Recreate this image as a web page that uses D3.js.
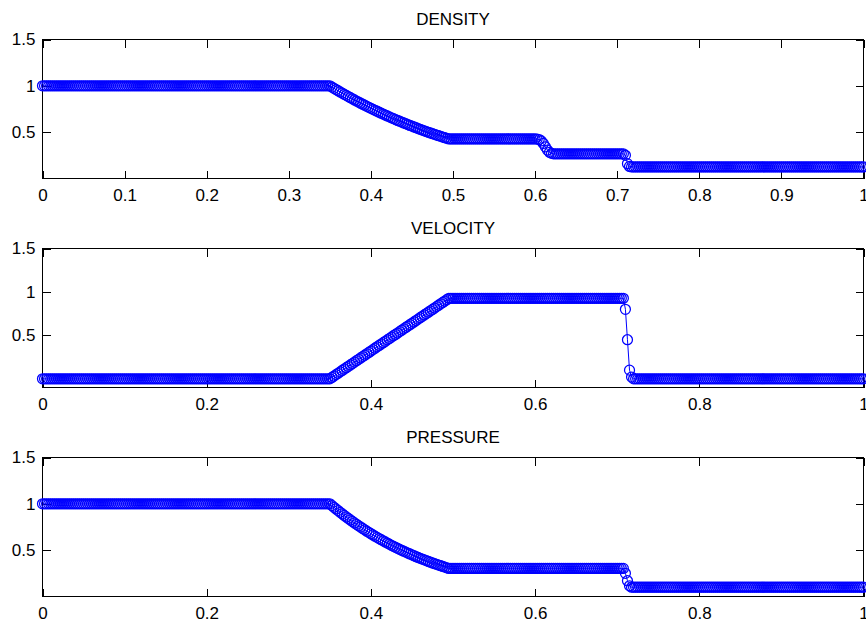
<!DOCTYPE html>
<html>
<head>
<meta charset="utf-8">
<script src="https://cdn.jsdelivr.net/npm/d3@7"></script>
<style>
  html, body { margin: 0; padding: 0; background: #ffffff; }
  svg { display: block; }
</style>
</head>
<body>
<script>
// Shock-tube solution on a uniform mesh of 401 nodes over [0, 1]
const meshStart = 0;
const meshEnd = 1;
const meshCells = 400;

const density = [
  1,1,1,1,1,1,1,1,1,1,1,1,1,1,1,1,1,1,1,1,
  1,1,1,1,1,1,1,1,1,1,1,1,1,1,1,1,1,1,1,1,
  1,1,1,1,1,1,1,1,1,1,1,1,1,1,1,1,1,1,1,1,
  1,1,1,1,1,1,1,1,1,1,1,1,1,1,1,1,1,1,1,1,
  1,1,1,1,1,1,1,1,1,1,1,1,1,1,1,1,1,1,1,1,
  1,1,1,1,1,1,1,1,1,1,1,1,1,1,1,1,1,1,1,1,
  1,1,1,1,1,1,1,1,1,1,1,1,1,1,1,1,1,1,1,1,
  1,
  0.987,0.973,0.960,0.947,0.934,0.922,0.909,0.897,0.884,0.872,
  0.860,0.848,0.836,0.825,0.813,0.802,0.791,0.779,0.768,0.758,
  0.747,0.736,0.726,0.715,0.705,0.695,0.685,0.675,0.665,0.655,
  0.646,0.636,0.627,0.618,0.609,0.600,0.591,0.582,0.573,0.565,
  0.556,0.548,0.539,0.531,0.523,0.515,0.507,0.499,0.492,0.484,
  0.477,0.469,0.462,0.455,0.447,0.440,0.433,
  0.4265,0.4265,0.4265,0.4265,0.4265,0.4265,0.4265,0.4265,0.4265,0.4265,
  0.4265,0.4265,0.4265,0.4265,0.4265,0.4265,0.4265,0.4265,0.4265,0.4265,
  0.4265,0.4265,0.4265,0.4265,0.4265,0.4265,0.4265,0.4265,0.4265,0.4265,
  0.4265,0.4265,0.4265,0.4265,0.4265,0.4265,0.4265,0.4265,0.4265,0.4265,
  0.4265,0.4265,0.4265,
  0.425,0.420,0.405,0.378,0.342,0.307,0.283,0.271,0.267,
  0.266,0.266,0.266,0.266,0.266,0.266,0.266,0.266,0.266,0.266,
  0.266,0.266,0.266,0.266,0.266,0.266,0.266,0.266,0.266,0.266,
  0.266,0.266,0.266,0.266,0.266,0.266,0.266,0.266,0.266,0.266,
  0.266,0.266,0.266,0.266,
  0.25,0.16,0.13,
  0.125,0.125,0.125,0.125,0.125,0.125,0.125,0.125,0.125,0.125,
  0.125,0.125,0.125,0.125,0.125,0.125,0.125,0.125,0.125,0.125,
  0.125,0.125,0.125,0.125,0.125,0.125,0.125,0.125,0.125,0.125,
  0.125,0.125,0.125,0.125,0.125,0.125,0.125,0.125,0.125,0.125,
  0.125,0.125,0.125,0.125,0.125,0.125,0.125,0.125,0.125,0.125,
  0.125,0.125,0.125,0.125,0.125,0.125,0.125,0.125,0.125,0.125,
  0.125,0.125,0.125,0.125,0.125,0.125,0.125,0.125,0.125,0.125,
  0.125,0.125,0.125,0.125,0.125,0.125,0.125,0.125,0.125,0.125,
  0.125,0.125,0.125,0.125,0.125,0.125,0.125,0.125,0.125,0.125,
  0.125,0.125,0.125,0.125,0.125,0.125,0.125,0.125,0.125,0.125,
  0.125,0.125,0.125,0.125,0.125,0.125,0.125,0.125,0.125,0.125,
  0.125,0.125,0.125,0.125
];

const velocity = [
  0,0,0,0,0,0,0,0,0,0,0,0,0,0,0,0,0,0,0,0,
  0,0,0,0,0,0,0,0,0,0,0,0,0,0,0,0,0,0,0,0,
  0,0,0,0,0,0,0,0,0,0,0,0,0,0,0,0,0,0,0,0,
  0,0,0,0,0,0,0,0,0,0,0,0,0,0,0,0,0,0,0,0,
  0,0,0,0,0,0,0,0,0,0,0,0,0,0,0,0,0,0,0,0,
  0,0,0,0,0,0,0,0,0,0,0,0,0,0,0,0,0,0,0,0,
  0,0,0,0,0,0,0,0,0,0,0,0,0,0,0,0,0,0,0,0,
  0,
  0.016,0.032,0.048,0.064,0.080,0.096,0.112,0.128,0.144,0.160,
  0.176,0.192,0.208,0.224,0.240,0.256,0.272,0.288,0.304,0.320,
  0.336,0.352,0.368,0.384,0.400,0.416,0.432,0.448,0.464,0.480,
  0.496,0.511,0.527,0.543,0.559,0.575,0.591,0.607,0.623,0.639,
  0.655,0.671,0.687,0.703,0.719,0.735,0.751,0.767,0.783,0.799,
  0.815,0.831,0.847,0.863,0.879,0.895,0.911,
  0.927,0.927,0.927,0.927,0.927,0.927,0.927,0.927,0.927,0.927,
  0.927,0.927,0.927,0.927,0.927,0.927,0.927,0.927,0.927,0.927,
  0.927,0.927,0.927,0.927,0.927,0.927,0.927,0.927,0.927,0.927,
  0.927,0.927,0.927,0.927,0.927,0.927,0.927,0.927,0.927,0.927,
  0.927,0.927,0.927,0.927,0.927,0.927,0.927,0.927,0.927,0.927,
  0.927,0.927,0.927,0.927,0.927,0.927,0.927,0.927,0.927,0.927,
  0.927,0.927,0.927,0.927,0.927,0.927,0.927,0.927,0.927,0.927,
  0.927,0.927,0.927,0.927,0.927,0.927,0.927,0.927,0.927,0.927,
  0.927,0.927,0.927,0.927,0.927,0.927,
  0.80,0.45,0.10,0.02,
  0,0,0,0,0,0,0,0,0,0,0,0,0,0,0,0,0,0,0,0,
  0,0,0,0,0,0,0,0,0,0,0,0,0,0,0,0,0,0,0,0,
  0,0,0,0,0,0,0,0,0,0,0,0,0,0,0,0,0,0,0,0,
  0,0,0,0,0,0,0,0,0,0,0,0,0,0,0,0,0,0,0,0,
  0,0,0,0,0,0,0,0,0,0,0,0,0,0,0,0,0,0,0,0,
  0,0,0,0,0,0,0,0,0,0,0,0,0
];

const pressure = [
  1,1,1,1,1,1,1,1,1,1,1,1,1,1,1,1,1,1,1,1,
  1,1,1,1,1,1,1,1,1,1,1,1,1,1,1,1,1,1,1,1,
  1,1,1,1,1,1,1,1,1,1,1,1,1,1,1,1,1,1,1,1,
  1,1,1,1,1,1,1,1,1,1,1,1,1,1,1,1,1,1,1,1,
  1,1,1,1,1,1,1,1,1,1,1,1,1,1,1,1,1,1,1,1,
  1,1,1,1,1,1,1,1,1,1,1,1,1,1,1,1,1,1,1,1,
  1,1,1,1,1,1,1,1,1,1,1,1,1,1,1,1,1,1,1,1,
  1,
  0.981,0.963,0.945,0.927,0.909,0.892,0.875,0.858,0.842,0.826,
  0.810,0.794,0.779,0.763,0.749,0.734,0.720,0.705,0.692,0.678,
  0.664,0.651,0.638,0.625,0.613,0.601,0.589,0.577,0.565,0.553,
  0.542,0.531,0.520,0.509,0.499,0.489,0.479,0.469,0.459,0.449,
  0.440,0.430,0.421,0.412,0.404,0.395,0.387,0.378,0.370,0.362,
  0.354,0.347,0.339,0.332,0.324,0.317,0.310,
  0.303,0.303,0.303,0.303,0.303,0.303,0.303,0.303,0.303,0.303,
  0.303,0.303,0.303,0.303,0.303,0.303,0.303,0.303,0.303,0.303,
  0.303,0.303,0.303,0.303,0.303,0.303,0.303,0.303,0.303,0.303,
  0.303,0.303,0.303,0.303,0.303,0.303,0.303,0.303,0.303,0.303,
  0.303,0.303,0.303,0.303,0.303,0.303,0.303,0.303,0.303,0.303,
  0.303,0.303,0.303,0.303,0.303,0.303,0.303,0.303,0.303,0.303,
  0.303,0.303,0.303,0.303,0.303,0.303,0.303,0.303,0.303,0.303,
  0.303,0.303,0.303,0.303,0.303,0.303,0.303,0.303,0.303,0.303,
  0.303,0.303,0.303,0.303,0.303,0.303,
  0.25,0.17,0.115,
  0.1,0.1,0.1,0.1,0.1,0.1,0.1,0.1,0.1,0.1,0.1,0.1,0.1,0.1,0.1,0.1,0.1,0.1,0.1,0.1,
  0.1,0.1,0.1,0.1,0.1,0.1,0.1,0.1,0.1,0.1,0.1,0.1,0.1,0.1,0.1,0.1,0.1,0.1,0.1,0.1,
  0.1,0.1,0.1,0.1,0.1,0.1,0.1,0.1,0.1,0.1,0.1,0.1,0.1,0.1,0.1,0.1,0.1,0.1,0.1,0.1,
  0.1,0.1,0.1,0.1,0.1,0.1,0.1,0.1,0.1,0.1,0.1,0.1,0.1,0.1,0.1,0.1,0.1,0.1,0.1,0.1,
  0.1,0.1,0.1,0.1,0.1,0.1,0.1,0.1,0.1,0.1,0.1,0.1,0.1,0.1,0.1,0.1,0.1,0.1,0.1,0.1,
  0.1,0.1,0.1,0.1,0.1,0.1,0.1,0.1,0.1,0.1,0.1,0.1,0.1,0.1
];

const panelTitles = ["DENSITY", "VELOCITY", "PRESSURE"];
const panelXTicks = [
  [0, 0.1, 0.2, 0.3, 0.4, 0.5, 0.6, 0.7, 0.8, 0.9, 1],
  [0, 0.2, 0.4, 0.6, 0.8, 1],
  [0, 0.2, 0.4, 0.6, 0.8, 1]
];
const panelYTicks = [0.5, 1, 1.5];
const panelYDomains = [[0, 1.5], [-0.1, 1.5], [0, 1.5]];
const panelSeries = [density, velocity, pressure];

// ---- layout ----
const W = 866, H = 620;
const axLeft = 42.5, axRight = 863.5;
const axTops = [39.5, 248.5, 457.5];
const axHeight = 139;
const tickLen = 8;
const blue = "#0000ff";
const fontFamily = "'Liberation Sans', Arial, Helvetica, sans-serif";
const fontSize = 17;

const svg = d3.select("body").append("svg")
  .attr("width", W).attr("height", H)
  .attr("viewBox", `0 0 ${W} ${H}`)
  .style("background", "#ffffff");

const x = d3.scaleLinear().domain([meshStart, meshEnd]).range([axLeft, axRight]);
const nodeX = i => meshStart + (meshEnd - meshStart) * i / meshCells;

panelSeries.forEach((series, p) => {
  const top = axTops[p], bottom = top + axHeight;
  const y = d3.scaleLinear().domain(panelYDomains[p]).range([bottom, top]);
  const g = svg.append("g");

  const fmt = d => String(d);

  // axes with inward ticks on all four sides
  const axG = g.append("g").attr("shape-rendering", "crispEdges");
  axG.append("g").attr("transform", `translate(0,${bottom})`)
    .call(d3.axisBottom(x).tickValues(panelXTicks[p]).tickFormat(fmt)
      .tickSizeInner(-tickLen).tickSizeOuter(0).tickPadding(10));
  axG.append("g").attr("transform", `translate(0,${top})`)
    .call(d3.axisTop(x).tickValues(panelXTicks[p]).tickFormat("")
      .tickSizeInner(-tickLen).tickSizeOuter(0));
  axG.append("g").attr("transform", `translate(${axLeft},0)`)
    .call(d3.axisLeft(y).tickValues(panelYTicks).tickFormat(fmt)
      .tickSizeInner(-tickLen).tickSizeOuter(0).tickPadding(7));
  axG.append("g").attr("transform", `translate(${axRight},0)`)
    .call(d3.axisRight(y).tickValues(panelYTicks).tickFormat("")
      .tickSizeInner(-tickLen).tickSizeOuter(0));
  axG.selectAll(".domain").remove();
  axG.selectAll(".tick line").attr("stroke", "#000").attr("stroke-width", 1);
  axG.selectAll(".tick text")
    .attr("fill", "#000")
    .style("font-family", fontFamily)
    .style("font-size", fontSize + "px");
  axG.append("rect")
    .attr("x", axLeft).attr("y", top)
    .attr("width", axRight - axLeft).attr("height", axHeight)
    .attr("fill", "none").attr("stroke", "#000").attr("stroke-width", 1);

  // title
  g.append("text")
    .attr("x", (axLeft + axRight) / 2).attr("y", top - 15)
    .attr("text-anchor", "middle")
    .style("font-family", fontFamily)
    .style("font-size", fontSize + "px")
    .attr("fill", "#000")
    .text(panelTitles[p]);

  // line through nodes, then circle markers
  const pts = series.map((v, i) => [x(nodeX(i)), y(v)]);
  g.append("path")
    .attr("d", d3.line()(pts))
    .attr("fill", "none").attr("stroke", blue).attr("stroke-width", 1);
  g.append("g").selectAll("circle").data(pts).join("circle")
    .attr("cx", d => d[0]).attr("cy", d => d[1]).attr("r", 5)
    .attr("fill", "none").attr("stroke", blue).attr("stroke-width", 1.25);
});
</script>
</body>
</html>
